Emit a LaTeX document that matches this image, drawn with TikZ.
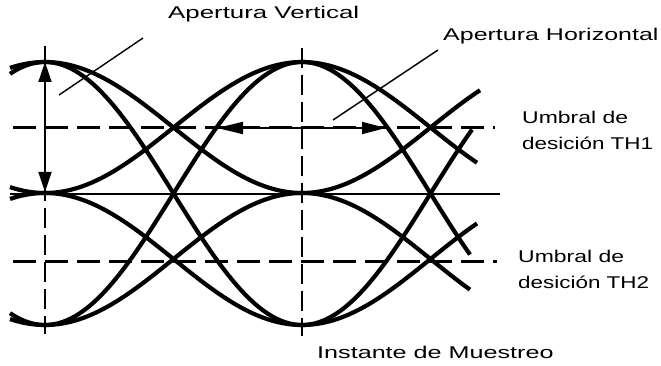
\documentclass[tikz,border=0pt]{standalone}
\usepackage{fontspec}
\setmainfont{Liberation Sans}
\usetikzlibrary{arrows.meta}
\newcommand\wtext[2]{\scalebox{#1}[1]{#2}}
\newcommand\trans[5]{\draw[curve] plot[domain=#4:#5,samples=60] (\x,{(#2+#3)/2+(#2-#3)/2*cos(((\x-(#1))/257)*180)});}
\tikzset{
 curve/.style={line width=4.2pt},
 hdash/.style={line width=3pt, dash pattern=on 23pt off 9pt},
 vdash/.style={line width=2.8pt, dash pattern=on 20pt off 7pt},
 thinline/.style={line width=1.8pt},
 leader/.style={line width=1.4pt},
 lbl/.style={font=\fontsize{17}{20}\selectfont, anchor=base west, inner sep=0pt},
 vert/.style={thinline, {Triangle[length=20pt,width=13pt]}-{Triangle[length=20pt,width=13pt]}},
 horz/.style={thinline, {Triangle[length=26pt,width=12pt]}-{Triangle[length=24pt,width=12pt]}},
}
\begin{document}
\begin{tikzpicture}[x=1pt,y=-1pt]
\useasboundingbox (0,0) rectangle (661,366);
% reference lines
\draw[hdash] (13,128) -- (495,128);
\draw[hdash] (13,261) -- (497,261);
\draw[thinline] (10,194) -- (500,194);
\draw[vdash] (45,46) -- (45,334);
\draw[vdash] (302,48) -- (302,336);
% left stubs
\trans{-212}{193}{62}{10}{45}
\trans{-212}{325}{62}{10}{45}
\trans{-212}{62}{193}{10}{45}
\trans{-212}{325}{193}{10}{45}
\trans{-212}{62}{325}{10}{45}
\trans{-212}{193}{325}{10}{45}
% main eye
\trans{45}{62}{193}{45}{302}
\trans{45}{62}{325}{45}{302}
\trans{45}{193}{62}{45}{302}
\trans{45}{193}{325}{45}{302}
\trans{45}{325}{62}{45}{302}
\trans{45}{325}{193}{45}{302}
% right part
\trans{302}{62}{193}{302}{477}
\trans{302}{193}{62}{302}{480}
\trans{302}{62}{325}{302}{470}
\trans{302}{325}{62}{302}{472}
\trans{302}{325}{193}{302}{477}
\trans{302}{193}{325}{302}{470}
% apertures
\coordinate (vt) at (45,62);
\coordinate (vb) at (45,192);
\coordinate (hl) at (217,128);
\coordinate (hr) at (386,128);
\draw[vert] (vt) -- (vb);
\draw[horz] (hl) -- (hr);
% labels
\node[lbl] (av) at (168,19) {\wtext{1.52}{Apertura Vertical}};
\node[lbl] (ah) at (443,41) {\wtext{1.47}{Apertura Horizontal}};
\node[lbl] (u1) at (522,124) {\wtext{1.35}{Umbral de}};
\node[lbl] (d1) at (522,150) {\wtext{1.32}{desición TH1}};
\node[lbl] (u2) at (518,262) {\wtext{1.35}{Umbral de}};
\node[lbl] (d2) at (518,288) {\wtext{1.32}{desición TH2}};
\node[lbl] (im) at (317,358) {\wtext{1.48}{Instante de Muestreo}};
% leaders
\coordinate (la1) at (143,38);
\coordinate (la2) at (59,95);
\coordinate (lb1) at (438,50);
\coordinate (lb2) at (333,120);
\draw[leader] (la1) -- (la2);
\draw[leader] (lb1) -- (lb2);
\end{tikzpicture}
\end{document}
